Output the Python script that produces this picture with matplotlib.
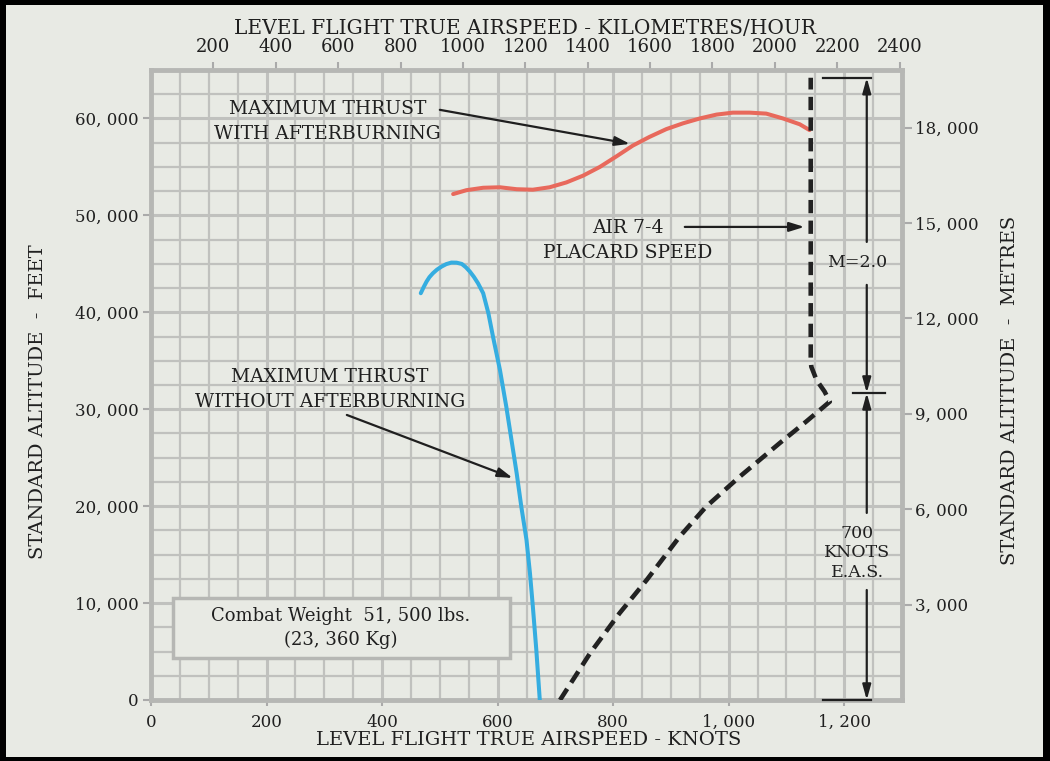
import numpy as np
import matplotlib
matplotlib.use("Agg")
import matplotlib.pyplot as plt
from matplotlib.patches import Rectangle

plt.rcParams['font.family'] = ['DejaVu Serif']

# ---- data (knots, feet) ----
ab_knots = [523, 546, 575, 604, 633, 661, 690, 719, 748, 777, 806, 834,
            863, 892, 921, 950, 979, 1007, 1036, 1065, 1094, 1123, 1140]
ab_alt = [52200, 52600, 52850, 52900, 52700, 52650, 52900, 53400, 54100,
          55000, 56100, 57200, 58100, 58900, 59500, 60000, 60400, 60600,
          60600, 60500, 60000, 59400, 58800]

mil_knots = [467, 472, 477, 482, 488, 495, 503, 511, 520, 529, 538, 545,
             552, 559, 566, 575, 584, 592, 604, 615, 624, 633, 641, 650,
             656, 661, 667, 673]
mil_alt = [41970, 42600, 43170, 43630, 44030, 44400, 44720, 44970, 45130,
           45120, 44990, 44650, 44200, 43650, 43000, 41970, 39910, 37490,
           34060, 30270, 26830, 23390, 19950, 16510, 13070, 9630, 5160, 0]

# placard limit: 700 KEAS up to the knee, then AIR 7-4 placard speed
placard_knots = [708, 760, 811, 858, 915, 961, 1019, 1088, 1134, 1175,
                 1166, 1152, 1143, 1142, 1142]
placard_alt = [0, 4820, 8950, 12380, 16850, 19950, 23040, 26490, 28720,
               30780, 31820, 33020, 34390, 35090, 64200]

knot_ticks = [0, 200, 400, 600, 800, 1000, 1200]
knot_labels = ['0', '200', '400', '600', '800', '1, 000', '1, 200']
ft_ticks = [0, 10000, 20000, 30000, 40000, 50000, 60000]
ft_labels = ['0', '10, 000', '20, 000', '30, 000', '40, 000', '50, 000', '60, 000']
kmh_ticks = [200, 400, 600, 800, 1000, 1200, 1400, 1600, 1800, 2000, 2200, 2400]
m_ticks = [3000, 6000, 9000, 12000, 15000, 18000]
m_labels = ['3, 000', '6, 000', '9, 000', '12, 000', '15, 000', '18, 000']

PAPER = '#e8eae4'
GRID = '#c0c1be'
INK = '#1f1f1f'

fig = plt.figure(figsize=(10.5, 7.61), dpi=100)
fig.patch.set_facecolor('black')
fig.add_artist(Rectangle((6 / 1050, 4 / 761), 1037 / 1050, 752 / 761,
                         transform=fig.transFigure, facecolor=PAPER,
                         edgecolor='none', zorder=-1))

ax = fig.add_axes([151 / 1050, 61 / 761, 751 / 1050, 630 / 761])
ax.set_facecolor(PAPER)
ax.set_xlim(0, 1300)
ax.set_ylim(0, 65000)

ax.set_xticks(knot_ticks)
ax.set_xticklabels(knot_labels)
ax.set_yticks(ft_ticks)
ax.set_yticklabels(ft_labels)
ax.set_xticks(np.arange(0, 1301, 50), minor=True)
ax.set_yticks(np.arange(0, 65001, 2500), minor=True)

ax.grid(which='minor', color=GRID, lw=1.6, zorder=0)
ax.grid(which='major', color=GRID, lw=2.2, zorder=0)
ax.set_axisbelow(True)
for s in ax.spines.values():
    s.set_color('#b6b7b4')
    s.set_linewidth(3.5)

ax.tick_params(which='minor', length=0)
ax.tick_params(axis='y', which='major', length=6, width=1.5, color='#aaaaaa',
               labelsize=12, labelcolor=INK, pad=3)
ax.tick_params(axis='x', which='major', length=4, width=1.5, color='#aaaaaa',
               labelsize=12, labelcolor=INK, pad=6)

top = ax.secondary_xaxis('top', functions=(lambda k: k * 1.852, lambda v: v / 1.852))
top.set_xticks(kmh_ticks)
top.set_xticklabels([str(v) for v in kmh_ticks])
top.tick_params(length=6, width=1.5, color='#aaaaaa', labelsize=13,
                labelcolor=INK, pad=4)
top.spines['top'].set_visible(False)

right = ax.secondary_yaxis('right', functions=(lambda f: f * 0.3048, lambda m: m / 0.3048))
right.set_yticks(m_ticks)
right.set_yticklabels(m_labels)
right.tick_params(length=7, width=1.5, color='#aaaaaa', labelsize=12,
                  labelcolor=INK, pad=2)
right.spines['right'].set_visible(False)

# curves
ax.plot(ab_knots, ab_alt, color='#e8695c', lw=2.9, solid_capstyle='round',
        solid_joinstyle='round', zorder=5)
ax.plot(mil_knots, mil_alt, color='#35ade0', lw=2.9, solid_capstyle='round',
        solid_joinstyle='round', zorder=5)
ax.plot(placard_knots, placard_alt, color='#222222', lw=3.3,
        dashes=(2.9, 1.6), dash_capstyle='butt', zorder=5)

# annotations
arrow = dict(arrowstyle='-|>,head_length=0.9,head_width=0.28', color=INK,
             lw=1.6, shrinkA=0, shrinkB=0)
ax.text(306, 59650, 'MAXIMUM THRUST\nWITH AFTERBURNING', ha='center', va='center',
        fontsize=13.5, color=INK, linespacing=1.5)
ax.annotate('', xy=(829, 57380), xytext=(500, 60890), arrowprops=arrow)

ax.text(825, 47370, 'AIR 7-4\nPLACARD SPEED', ha='center', va='center',
        fontsize=13.5, color=INK, linespacing=1.5)
ax.annotate('', xy=(1131, 48810), xytext=(924, 48810), arrowprops=arrow)

ax.text(310, 31990, 'MAXIMUM THRUST\nWITHOUT AFTERBURNING', ha='center', va='center',
        fontsize=13.5, color=INK, linespacing=1.5)
ax.annotate('', xy=(626, 22910), xytext=(339, 29410), arrowprops=arrow)

# combat weight box
ax.add_patch(Rectangle((38, 4330), 583, 6200, facecolor=PAPER,
                       edgecolor='#b6b7b4', lw=2.5, zorder=3))
ax.text(329, 7450, 'Combat Weight  51, 500 lbs.\n(23, 360 Kg)', ha='center',
        va='center', fontsize=13, color=INK, linespacing=1.4, zorder=4)

# dimension markers on the right
dim_x = 1239
ax.plot([1163, 1247], [64200, 64200], color=INK, lw=1.6, zorder=6)
ax.plot([1215, 1270], [31680, 31680], color=INK, lw=1.6, zorder=6)
ax.plot([1163, 1247], [0, 0], color=INK, lw=1.6, zorder=6, clip_on=False)
dim = dict(arrowstyle='-|>,head_length=0.9,head_width=0.25', color=INK,
           lw=1.6, shrinkA=0, shrinkB=0)
ax.annotate('', xy=(dim_x, 64200), xytext=(dim_x, 47260), arrowprops=dim)
ax.annotate('', xy=(dim_x, 31680), xytext=(dim_x, 42830), arrowprops=dim)
ax.annotate('', xy=(dim_x, 31680), xytext=(dim_x, 19300), arrowprops=dim)
ax.annotate('', xy=(dim_x, 0), xytext=(dim_x, 11350), arrowprops=dim)
ax.text(1223, 45100, 'M=2.0', ha='center', va='center', fontsize=12.5, color=INK, zorder=7)
ax.text(1223, 15170, '700\nKNOTS\nE.A.S.', ha='center', va='center', fontsize=12.5,
        color=INK, linespacing=1.2, zorder=7)

# axis titles
fig.text(525 / 1050, 1 - 28 / 761, 'LEVEL FLIGHT TRUE AIRSPEED - KILOMETRES/HOUR',
         ha='center', va='center', fontsize=14.5, color=INK)
fig.text(529 / 1050, 1 - 740 / 761, 'LEVEL FLIGHT TRUE AIRSPEED - KNOTS',
         ha='center', va='center', fontsize=14, color=INK)
fig.text(38 / 1050, 1 - 402 / 761, 'STANDARD ALTITUDE  -  FEET', rotation=90,
         ha='center', va='center', fontsize=14, color=INK)
fig.text(1010 / 1050, 1 - 390 / 761, 'STANDARD ALTITUDE  -  METRES', rotation=90,
         ha='center', va='center', fontsize=14, color=INK)

fig.savefig('out.png', dpi=100, facecolor=fig.get_facecolor())
